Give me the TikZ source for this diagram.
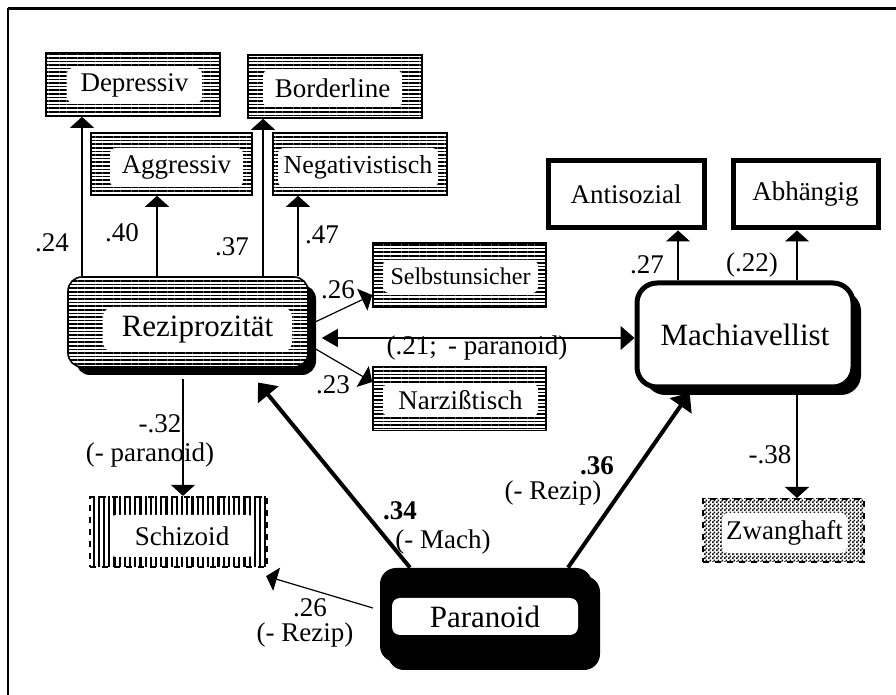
\documentclass[tikz,border=0pt]{standalone}
\usepackage{fontspec}
\setmainfont{Liberation Serif}
\usetikzlibrary{arrows.meta,patterns,patterns.meta,shadows,calc}

% fine checker for the Zwanghaft frame
\pgfdeclarepatternformonly{fine checks}{\pgfpointorigin}{\pgfqpoint{2pt}{2pt}}{\pgfqpoint{2pt}{2pt}}{%
  \pgfpathrectangle{\pgfpointorigin}{\pgfqpoint{1pt}{1pt}}%
  \pgfpathrectangle{\pgfqpoint{1pt}{1pt}}{\pgfqpoint{1pt}{1pt}}%
  \pgfusepath{fill}}

\begin{document}
\begin{tikzpicture}[x=0.5pt,y=-0.5pt,
  stripebox/.style={draw,line width=0.8pt,inner sep=0pt,preaction={fill=white},
    pattern={Lines[angle=0,distance=1.8pt,line width=0.85pt]}},
  namebox/.style={fill=white,rounded corners=3pt,inner sep=0pt,font=\fontsize{13.5}{15}\selectfont},
  plainbox/.style={draw,line width=2.5pt,fill=white,inner sep=0pt,font=\fontsize{13.5}{15}\selectfont},
  bigbox/.style={rounded corners=10pt,inner sep=0pt,font=\fontsize{15.5}{18}\selectfont,
    drop shadow={shadow xshift=4pt,shadow yshift=-4pt,fill=black,opacity=1}},
  num/.style={inner sep=0pt,font=\fontsize{13.5}{15}\selectfont},
  arr/.style={-{Triangle[width=12pt,length=5.5pt]},line width=0.6pt},
  bigarr/.style={-{Triangle[width=13pt,length=8pt]},line width=2pt}]
\useasboundingbox (0,0) rectangle (896,695);
\clip (0,0) rectangle (896,695);
\draw[line width=1.3pt] (7.5,8.5) -- (910,8.5);
\draw[line width=1pt] (8,8) -- (8,710);

% personality boxes
\node[stripebox,minimum width=87pt,minimum height=31.5pt] (dep) at (133,84.5) {};
\node[namebox,minimum width=67.5pt,minimum height=17.5pt] (dep-t) at (134.5,85.5) {Depressiv};
\node[stripebox,minimum width=87pt,minimum height=31.5pt] (bord) at (335,86.5) {};
\node[namebox,minimum width=69.5pt,minimum height=18.5pt] (bord-t) at (332.5,88.5) {Borderline};
\node[stripebox,minimum width=80.5pt,minimum height=31pt] (aggr) at (171.5,164) {};
\node[namebox,minimum width=66.5pt,minimum height=19.5pt] (aggr-t) at (176.5,167.5) {Aggressiv};
\node[stripebox,minimum width=87pt,minimum height=31pt] (neg) at (360,164) {};
\node[namebox,minimum width=80pt,minimum height=19.5pt,font=\fontsize{13}{15}\selectfont] (neg-t) at (358,167.5) {Negativistisch};
\node[stripebox,minimum width=86.5pt,minimum height=32pt] (selb) at (459.5,275) {};
\node[namebox,minimum width=77.5pt,minimum height=16.5pt,font=\fontsize{12}{14}\selectfont] (selb-t) at (460.5,276.5) {Selbstunsicher};
\node[stripebox,minimum width=86.5pt,minimum height=32pt] (narz) at (459.5,398.5) {};
\node[namebox,minimum width=77.5pt,minimum height=16.5pt] (narz-t) at (460.5,400) {Narzißtisch};
\node[plainbox,minimum width=78pt,minimum height=33.5pt] (anti) at (626,194.5) {Antisozial};
\node[plainbox,minimum width=72.5pt,minimum height=33.5pt] (abh) at (805.5,194.5) {Abhängig};
\node[draw,dashed,line width=1pt,preaction={fill=white},pattern=fine checks,minimum width=80.5pt,minimum height=31.5pt] (zw) at (783.5,530.5) {};
\node[namebox,minimum width=62.5pt,minimum height=20pt] (zw-t) at (784.5,533) {Zwanghaft};
\node[draw,dashed,line width=1pt,pattern={Lines[angle=90,distance=2.6pt,line width=1.1pt]},minimum width=88.5pt,minimum height=35pt] (schiz) at (178.5,532) {};
\node[namebox,minimum width=72pt,minimum height=21pt] (schiz-t) at (182,536) {Schizoid};

% the three main factors
\node[bigbox,stripebox,rounded corners=7pt,minimum width=120pt,minimum height=45pt] (rez) at (188,322) {};
\node[namebox,rounded corners=5pt,minimum width=94.5pt,minimum height=22.5pt,font=\fontsize{15.5}{18}\selectfont] (rez-t) at (197.5,329.5) {Reziprozität};
\node[bigbox,draw,line width=2.5pt,fill=white,minimum width=108pt,minimum height=52pt] (mach) at (745,335) {Machiavellist};
\node[bigbox,fill=black,rounded corners=8pt,minimum width=106pt,minimum height=47pt] (para) at (486,615) {};
\node[namebox,rounded corners=4pt,minimum width=93pt,minimum height=18.5pt,font=\fontsize{15.5}{18}\selectfont] (para-t) at (485,616.5) {Paranoid};

% paths
\draw[arr] (rez.north -| 82,0) -- (dep.south -| 82,0);
\draw[arr] (rez.north -| 157,0) -- (aggr.south -| 157,0);
\draw[arr] (rez.north -| 263,0) -- (bord.south -| 263,0);
\draw[arr] (rez.north -| 298,0) -- (neg.south -| 298,0);
\draw[arr] (rez.east |- 0,325) -- (selb.west |- 0,295);
\draw[arr] (rez.east |- 0,345) -- (narz.west |- 0,382);
\draw[arr,{Triangle[width=9pt,length=8pt]}-{Triangle[width=12pt,length=7pt]}] ($(rez.east |- 0,338)+(13,0)$) -- (mach.west |- 0,338);
\draw[arr,shorten <=5.5pt] (rez.south -| 183,0) -- (schiz.north -| 183,0);
\draw[arr] (mach.north -| 678,0) -- (anti.south -| 678,0);
\draw[arr] (mach.north -| 797,0) -- (abh.south -| 797,0);
\draw[arr] (mach.south -| 797,0) -- (zw.north -| 797,0);
\draw[bigarr,shorten >=9.5pt] (para.north -| 410,0) -- (rez.south -| 246,0);
\draw[bigarr,shorten >=2pt] (para.north -| 568,0) -- (mach.south -| 692,0);
\draw[arr,shorten <=3.5pt] (para.west |- 0,610) -- ($(schiz.south east)+(-2,8)$);

% coefficients
\node[num] (l24) at (52,243) {.24};
\node[num] (l40) at (122,233) {.40};
\node[num] (l37) at (232,247) {.37};
\node[num] (l47) at (322,235) {.47};
\node[num] (l26a) at (338,290) {.26};
\node[num] (l23) at (333,385) {.23};
\node[num] (l21) at (477,348) {(.21;\, - paranoid)};
\node[num] (l27) at (647,265) {.27};
\node[num] (l22) at (752,265) {(.22)};
\node[num] (l38) at (770,455) {-.38};
\node[num] (l32) at (160,424) {-.32};
\node[num] (l32b) at (150,455) {(- paranoid)};
\node[num] (l34) at (400,511) {\textbf{.34}};
\node[num] (l34b) at (443,542) {(- Mach)};
\node[num] (l36) at (597,466) {\textbf{.36}};
\node[num] (l36b) at (553,493) {(- Rezip)};
\node[num] (l26b) at (310,608) {.26};
\node[num] (l26c) at (305,635) {(- Rezip)};
\end{tikzpicture}
\end{document}
